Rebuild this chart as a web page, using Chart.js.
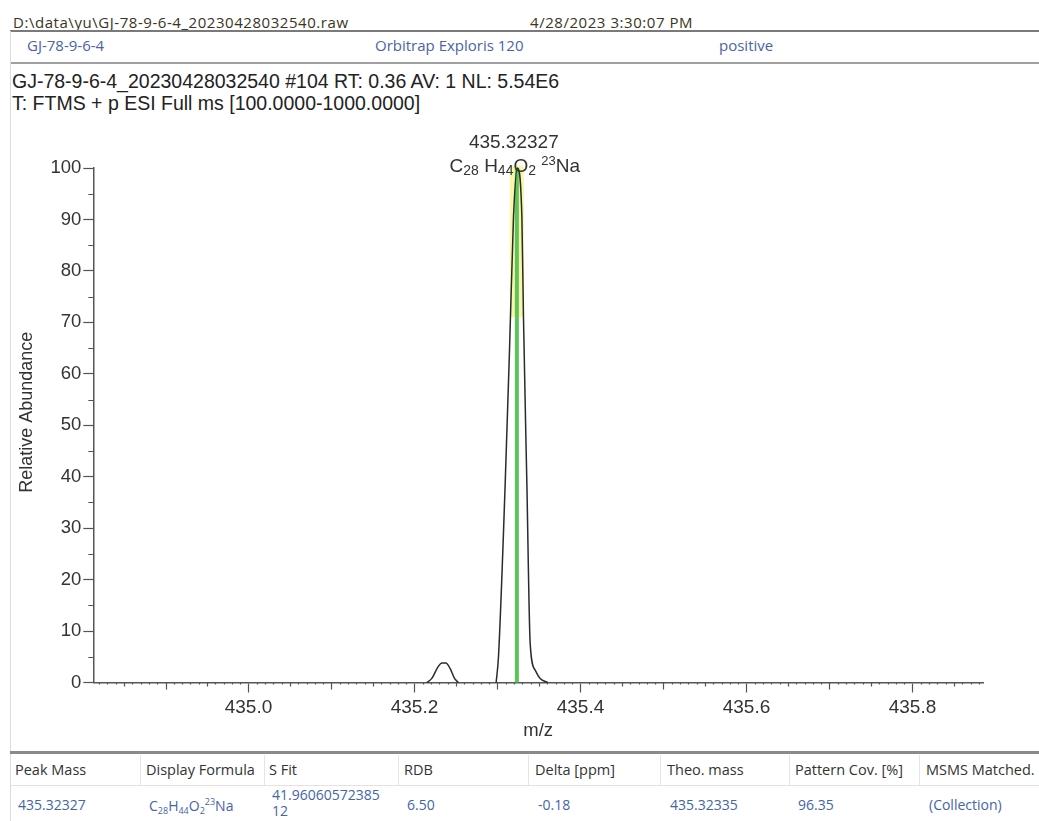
<!DOCTYPE html>
<html>
<head>
<meta charset="utf-8">
<script src="https://cdn.jsdelivr.net/npm/chart.js@4.4.0/dist/chart.umd.min.js"></script>
<style>
  body { margin: 0; width: 1039px; height: 821px; overflow: hidden; background: #fff; position: relative; font-family: "Open Sans", sans-serif; }
  .t { position: absolute; white-space: nowrap; }
  .hline { position: absolute; left: 10px; right: 0; }
  .vline { position: absolute; width: 1px; background: #dcdcdc; }
  .file { top: 12px; font-size: 15px; letter-spacing: 0.55px; color: #3b3422; }
  .blue { top: 35px; color: #4a64a6; font-size: 15px; }
  .info { left: 12px; font-family: "Liberation Sans", Arial, sans-serif; font-size: 19.5px; color: #222; }
  .th { top: 760px; font-size: 14.5px; color: #333; }
  .td { top: 795px; font-size: 14px; color: #4465a8; }
  .td sub, .td sup { font-size: 9px; }
  #wrap { position: absolute; left: 0; top: 110px; width: 1039px; height: 640px; }
</style>
</head>
<body>
<div class="t file" style="left:13px;">D:\data\yu\GJ-78-9-6-4_20230428032540.raw</div>
<div class="t file" style="left:530px;">4/28/2023 3:30:07 PM</div>
<div class="hline" style="top:30px; height:2px; background:#7a7a7a;"></div>
<div class="t blue" style="left:27px;">GJ-78-9-6-4</div>
<div class="t blue" style="left:375px;">Orbitrap Exploris 120</div>
<div class="t blue" style="left:719px;">positive</div>
<div class="hline" style="top:62px; height:2px; background:#a0a0a0;"></div>
<div class="vline" style="left:10px; top:31px; height:790px;"></div>
<div class="t info" style="top:70px;">GJ-78-9-6-4_20230428032540 #104 RT: 0.36 AV: 1 NL: 5.54E6</div>
<div class="t info" style="top:92px;">T: FTMS + p ESI Full ms [100.0000-1000.0000]</div>

<div id="wrap"><canvas id="spectrum"></canvas></div>

<div class="hline" style="top:751px; height:3px; background:#8a8a8a;"></div>
<div class="hline" style="top:785px; height:1px; background:#e2e2e2;"></div>
<div id="table"></div>

<script>
// Spectrum values (m/z, relative abundance)
const smallPeakMz = [435.2149, 435.2209, 435.2282, 435.2330, 435.2378, 435.2430, 435.2482, 435.2530];
const smallPeakAb = [0, 0.8, 3.0, 3.8, 3.8, 2.7, 0.8, 0];
const mainPeakMz = [435.2984, 435.3012, 435.3093, 435.3145, 435.3193, 435.3240, 435.3294, 435.3313, 435.3354, 435.3394, 435.3454, 435.3514, 435.3605];
const mainPeakAb = [0, 5.0, 38.7, 64.6, 90.5, 100, 90.5, 71.1, 38.7, 7.6, 2.4, 0.8, 0];

const peakMass = 435.32327;
const theoMass = 435.32335;
const matchBand = [71, 100.5];
const peakLabel = '435.32327';
const formulaParts = [['C', 0], ['28', -1], [' H', 0], ['44', -1], ['O', 0], ['2', -1], [' ', 0], ['23', 1], ['Na', 0]];

const xMin = 434.813, xMax = 435.885;
const xStep = 0.2;
const yMax = 100, yStep = 10;

// Result table
const tableHeads = ['Peak Mass', 'Display Formula', 'S Fit', 'RDB', 'Delta [ppm]', 'Theo. mass', 'Pattern Cov. [%]', 'MSMS Matched.'];
const tableRow = ['435.32327', 'C<sub>28</sub>H<sub>44</sub>O<sub>2</sub><sup>23</sup>Na', '41.96060572385<br>12', '6.50', '-0.18', '435.32335', '96.35', '(Collection)'];
const colLeft = [15, 146, 269, 404, 535, 667, 795, 926];
const colSep = [140, 264, 398, 528, 660, 789, 919];

let html = '';
tableHeads.forEach((h, i) => { html += '<div class="t th" style="left:' + colLeft[i] + 'px">' + h + '</div>'; });
tableRow.forEach((v, i) => {
  const extra = i === 2 ? 'top:787px;line-height:16px;' : '';
  html += '<div class="t td" style="left:' + (colLeft[i] + 3) + 'px;' + extra + '">' + v + '</div>';
});
colSep.forEach(x => { html += '<div class="vline" style="left:' + x + 'px; top:755px; height:30px; background:#e4e4e4"></div>'; });
document.getElementById('table').innerHTML = html;

const toPoints = (xs, ys) => xs.map((x, i) => ({ x: x, y: ys[i] }));
const profile = toPoints(smallPeakMz, smallPeakAb).concat([{ x: 435.27, y: null }], toPoints(mainPeakMz, mainPeakAb));

const axisColor = '#555';
const textColor = '#333';
const chartFont = '"Liberation Sans", Arial, sans-serif';

// minor ticks, y title and the peak annotation
const extrasPlugin = {
  id: 'extras',
  afterDraw(chart) {
    const ctx = chart.ctx;
    const xs = chart.scales.x, ys = chart.scales.y;
    const area = chart.chartArea;
    const bottom = ys.getPixelForValue(0);
    ctx.save();
    ctx.strokeStyle = axisColor;
    ctx.lineWidth = 1.2;
    ctx.beginPath();
    for (let v = 0; v < yMax; v += yStep) {
      const y = Math.round(ys.getPixelForValue(v + yStep / 2)) + 0.5;
      ctx.moveTo(xs.left - 5, y);
      ctx.lineTo(xs.left, y);
    }
    const startI = Math.ceil(xMin * 100), endI = Math.floor(xMax * 100);
    for (let i = startI; i <= endI; i++) {
      if (i % 20 === 0) continue;
      const len = i % 10 === 0 ? 7 : (i % 5 === 0 ? 4 : 2);
      const x = Math.round(xs.getPixelForValue(i / 100)) + 0.5;
      ctx.moveTo(x, bottom);
      ctx.lineTo(x, bottom + len);
    }
    ctx.stroke();

    // y axis title, a little above the middle as in the original
    ctx.fillStyle = textColor;
    ctx.save();
    ctx.translate(27, (area.top + area.bottom) / 2 - 13);
    ctx.rotate(-Math.PI / 2);
    ctx.textAlign = 'center';
    ctx.textBaseline = 'middle';
    ctx.font = '18px ' + chartFont;
    ctx.fillText('Relative Abundance', 0, 0);
    ctx.restore();

    // annotation above the main peak
    const px = xs.getPixelForValue(peakMass);
    const top = ys.getPixelForValue(yMax);
    ctx.textAlign = 'center';
    ctx.textBaseline = 'alphabetic';
    ctx.font = '19px ' + chartFont;
    ctx.fillText(peakLabel, px - 3, top - 20);

    const sizes = { '0': 19, '-1': 14, '1': 13 };
    const shift = { '0': 0, '-1': 3, '1': -7 };
    let total = 0;
    formulaParts.forEach(p => { ctx.font = sizes[p[1]] + 'px ' + chartFont; total += ctx.measureText(p[0]).width; });
    let cx = px - total / 2 - 2;
    ctx.textAlign = 'left';
    formulaParts.forEach(p => {
      ctx.font = sizes[p[1]] + 'px ' + chartFont;
      ctx.fillText(p[0], cx, top + 4 + shift[p[1]]);
      cx += ctx.measureText(p[0]).width;
    });
    ctx.restore();
  }
};

new Chart(document.getElementById('spectrum').getContext('2d'), {
  type: 'line',
  data: {
    datasets: [
      {
        label: 'profile',
        data: profile,
        borderColor: '#2b2b2b',
        borderWidth: 1.5,
        pointRadius: 0,
        cubicInterpolationMode: 'monotone',
        spanGaps: false,
        order: 0
      },
      {
        label: 'theoretical',
        data: [{ x: theoMass, y: 0 }, { x: theoMass, y: yMax }],
        borderColor: '#5cc45a',
        borderWidth: 4,
        borderCapStyle: 'butt',
        pointRadius: 0,
        order: 1
      },
      {
        label: 'band',
        data: [{ x: theoMass, y: matchBand[0] }, { x: theoMass, y: matchBand[1] }],
        borderColor: 'rgba(246, 246, 160, 0.9)',
        borderWidth: 14,
        borderCapStyle: 'butt',
        pointRadius: 0,
        order: 2
      }
    ]
  },
  options: {
    responsive: true,
    maintainAspectRatio: false,
    animation: false,
    clip: false,
    layout: { padding: { top: 58, right: 56, left: 0, bottom: 0 } },
    plugins: { legend: { display: false }, tooltip: { enabled: false } },
    scales: {
      x: {
        type: 'linear',
        min: xMin,
        max: xMax,
        afterFit: s => { s.height = 67.5; },
        afterBuildTicks: s => { s.ticks = s.ticks.filter(t => Math.abs(t.value * 5 - Math.round(t.value * 5)) < 1e-6); },
        ticks: {
          stepSize: xStep,
          includeBounds: false,
          autoSkip: false,
          maxRotation: 0,
          padding: 4,
          color: textColor,
          font: { family: chartFont, size: 19 },
          callback: v => v.toFixed(1)
        },
        grid: { drawOnChartArea: false, tickLength: 10, tickColor: axisColor, tickWidth: 1.2 },
        border: { color: axisColor, width: 1.5 },
        title: { display: true, text: 'm/z', color: textColor, font: { family: chartFont, size: 18.5 }, padding: { top: 0, bottom: 8 } }
      },
      y: {
        min: 0,
        max: yMax,
        afterFit: s => { s.width = 93.3; },
        ticks: {
          stepSize: yStep,
          padding: 2,
          color: textColor,
          font: { family: chartFont, size: 18.5 }
        },
        grid: { drawOnChartArea: false, tickLength: 10, tickColor: axisColor, tickWidth: 1.2 },
        border: { color: axisColor, width: 1.5 },
        title: { display: false }
      }
    }
  },
  plugins: [extrasPlugin]
});
</script>
</body>
</html>
